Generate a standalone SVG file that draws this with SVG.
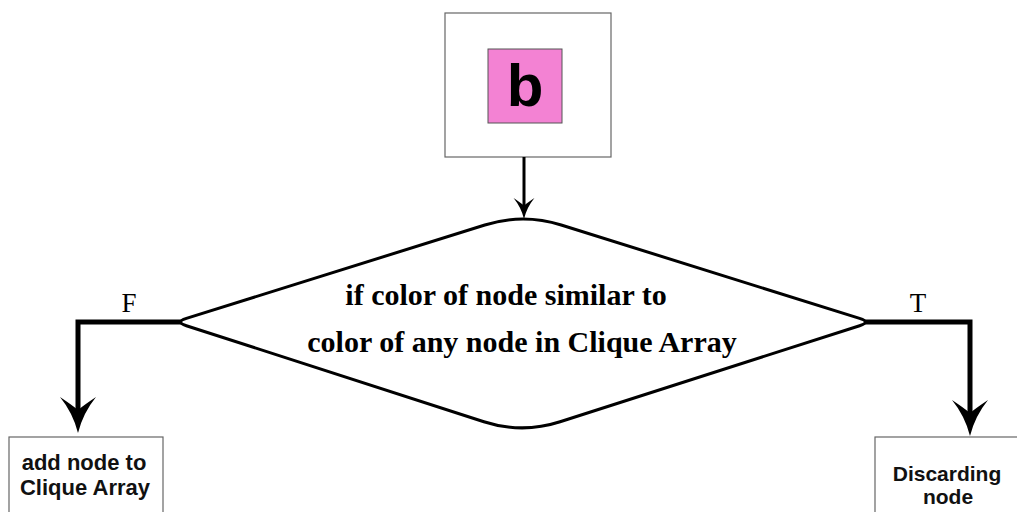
<svg xmlns="http://www.w3.org/2000/svg" xmlns:xlink="http://www.w3.org/1999/xlink" width="1017" height="512" viewBox="0 0 1017 512">
<style>
.box{fill:#fff;stroke:#666;stroke-width:1.2}
.lbl{font-family:"Liberation Sans",Arial,sans-serif;font-weight:bold;fill:#111;text-anchor:middle}
.l22{font-size:22px}
.l20{font-size:21px}
.dtxt{font-family:"Liberation Serif","Times New Roman",serif;font-weight:bold;font-size:30px;fill:#000;text-anchor:middle}
.tf{font-family:"Liberation Serif","Times New Roman",serif;font-size:27px;fill:#000;text-anchor:middle}
.conn{fill:none;stroke:#000;stroke-linejoin:miter}
</style>
<defs>
<path id="ah" d="M0,0 Q-5,-20 -18,-36 Q-6,-28 0,-23 Q6,-28 18,-36 Q5,-20 0,0 Z" fill="#000"/>
</defs>
<rect width="1017" height="512" fill="#fff"/>
<g id="node-start">
<rect class="box" x="445" y="13" width="166" height="144"/>
<rect x="488" y="49" width="74" height="74" fill="#f382d3" stroke="#555" stroke-width="1"/>
<text x="525" y="106" font-family="Liberation Sans,Arial,sans-serif" font-weight="bold" font-size="60" text-anchor="middle" fill="#000">b</text>
</g>
<g id="node-decision">
<path d="M484.8,225 Q523,213 561.2,225 L859.6,318.4 Q871,322 859.6,325.7 L560.1,421.8 Q522,434 483.9,421.7 L186.4,325.7 Q175,322 186.4,318.4 Z" fill="#fff" stroke="#000" stroke-width="3"/>
<text class="dtxt" x="506" y="305">if color of node similar to</text>
<text class="dtxt" x="522" y="352">color of any node in Clique Array</text>
</g>
<g id="node-add">
<rect class="box" x="9" y="437" width="154" height="90"/>
<text class="lbl l22" x="84" y="470">add node to</text>
<text class="lbl l22" x="85" y="495">Clique Array</text>
</g>
<g id="node-discard">
<rect class="box" x="875" y="437" width="160" height="90"/>
<text class="lbl l20" x="947" y="481">Discarding</text>
<text class="lbl l20" x="948" y="504">node</text>
</g>
<g id="connectors">
<path class="conn" d="M524,157 V208" stroke-width="3"/>
<use href="#ah" transform="translate(524,219) scale(0.58)"/>
<path class="conn" d="M181,322 H78 V412" stroke-width="5"/>
<use href="#ah" x="78" y="433"/>
<path class="conn" d="M865,322 H970 V414" stroke-width="5"/>
<use href="#ah" x="970" y="436"/>
<text class="tf" x="129" y="312">F</text>
<text class="tf" x="918" y="312">T</text>
</g>
</svg>
